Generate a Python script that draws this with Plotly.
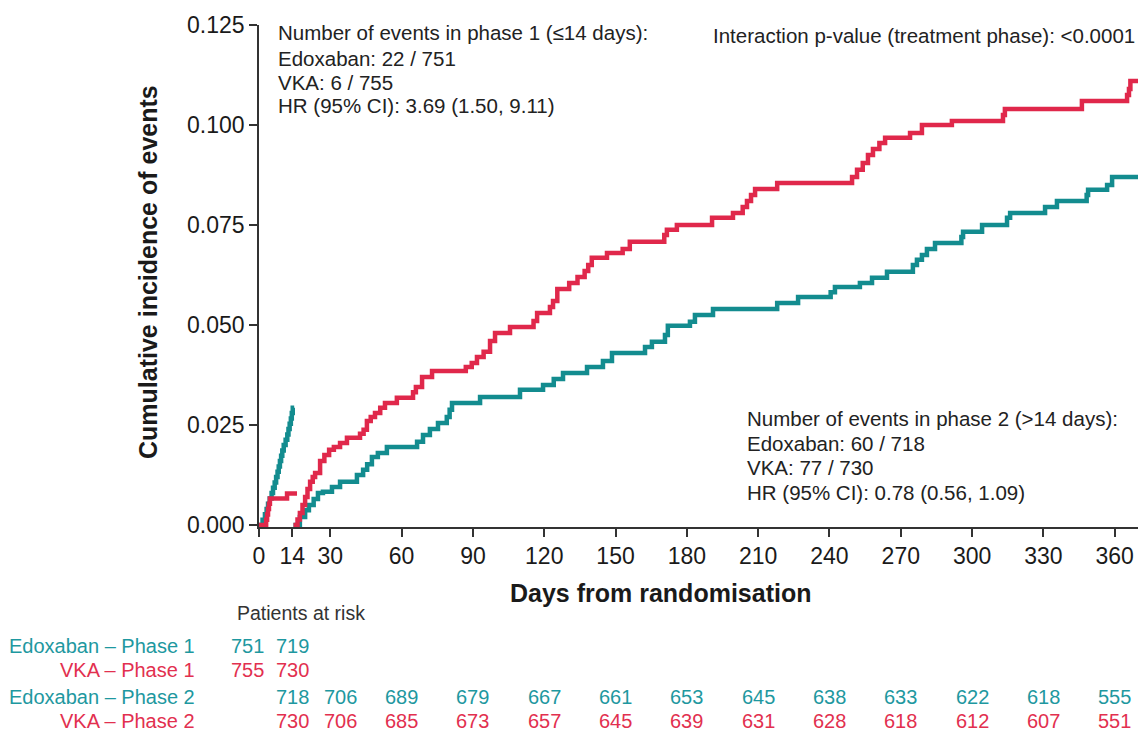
import plotly.graph_objects as go

# ---------------- data ----------------
days_edox_p1 = [0, 1.5, 2.5, 3.2, 3.8, 4.5, 5.3, 5.9, 6.6, 7.2, 7.8, 8.3, 8.8, 9.3, 9.8,
                10.4, 11.2, 11.9, 12.4, 12.9, 13.4, 13.8, 14.2, 14.8]
inc_edox_p1 = [0, 0.0013, 0.0027, 0.0040, 0.0053, 0.0066, 0.0080, 0.0093, 0.0106, 0.0120,
               0.0133, 0.0146, 0.0160, 0.0173, 0.0186, 0.0200, 0.0213, 0.0226, 0.0240,
               0.0253, 0.0266, 0.0280, 0.0293, 0.0293]

days_vka_p1 = [0, 3.0, 3.4, 3.8, 4.2, 4.6, 11.8, 16.0]
inc_vka_p1 = [0, 0.0013, 0.0026, 0.0040, 0.0053, 0.0066, 0.0079, 0.0079]

days_edox_p2 = [14.5, 17.2, 19.4, 21.0, 23.0, 24.8, 26.9, 30.7, 34.1, 41.2, 43.8, 45.5, 47.5,
                50.0, 53.8, 66.5, 69.0, 71.9, 75.3, 79.0, 80.2, 81.2, 93.0, 109.8, 119.5,
                124.0, 127.9, 138.0, 144.7, 148.5, 162.4, 165.3, 170.8, 172.0, 181.3, 183.4,
                191.0, 218.0, 226.8, 240.5, 242.3, 252.8, 257.9, 264.2, 275.1, 276.8, 278.9,
                281.0, 284.4, 295.5, 296.2, 304.2, 314.7, 316.0, 330.7, 335.7, 348.2, 348.8,
                356.8, 358.9, 369.8]
inc_edox_p2 = [0, 0.0020, 0.0037, 0.0050, 0.0065, 0.0080, 0.0083, 0.0095, 0.0108, 0.0125,
               0.0138, 0.0152, 0.0170, 0.0180, 0.0195, 0.0208, 0.0225, 0.0240, 0.0255, 0.0270,
               0.0288, 0.0305, 0.0320, 0.0338, 0.0350, 0.0365, 0.0380, 0.0395, 0.0410, 0.0430,
               0.0445, 0.0458, 0.0475, 0.0498, 0.0508, 0.0525, 0.0540, 0.0555, 0.0570, 0.0582,
               0.0595, 0.0605, 0.0618, 0.0633, 0.0650, 0.0663, 0.0675, 0.0690, 0.0705, 0.0720,
               0.0733, 0.0750, 0.0768, 0.0780, 0.0795, 0.0810, 0.0825, 0.0838, 0.0850, 0.0870,
               0.0870]

days_vka_p2 = [14.5, 16.2, 17.2, 18.3, 19.4, 20.4, 21.5, 22.6, 23.6, 25.7, 27.5, 29.5, 31.5,
               34.1, 37.0, 42.5, 44.0, 45.4, 47.0, 48.8, 51.0, 53.0, 58.0, 64.8, 66.0, 68.6,
               72.8, 87.0, 89.5, 91.7, 94.5, 97.2, 99.3, 105.6, 115.5, 117.0, 122.4, 123.7,
               125.5, 130.5, 134.0, 137.0, 138.5, 140.0, 146.4, 153.0, 156.0, 170.5, 171.6,
               175.8, 190.6, 199.4, 203.5, 205.3, 207.0, 208.7, 218.0, 249.5, 251.6, 254.0,
               256.2, 258.3, 261.0, 263.4, 273.9, 278.9, 291.5, 313.0, 313.8, 346.2, 365.2,
               366.0, 366.6, 369.8]
inc_vka_p2 = [0, 0.0014, 0.0030, 0.0050, 0.0070, 0.0090, 0.0108, 0.0120, 0.0130, 0.0160,
              0.0175, 0.0188, 0.0195, 0.0205, 0.0218, 0.0228, 0.0238, 0.0260, 0.0270, 0.0280,
              0.0293, 0.0305, 0.0318, 0.0332, 0.0345, 0.0370, 0.0385, 0.0395, 0.0405, 0.0420,
              0.0433, 0.0460, 0.0480, 0.0495, 0.0510, 0.0530, 0.0545, 0.0560, 0.0590, 0.0605,
              0.0620, 0.0635, 0.0650, 0.0668, 0.0680, 0.0690, 0.0708, 0.0725, 0.0738, 0.0750,
              0.0768, 0.0780, 0.0795, 0.0810, 0.0825, 0.0840, 0.0855, 0.0870, 0.0888, 0.0905,
              0.0925, 0.0940, 0.0955, 0.0968, 0.0980, 0.1000, 0.1010, 0.1025, 0.1040, 0.1060,
              0.1075, 0.1090, 0.1110, 0.1110]

x_ticks = [0, 14, 30, 60, 90, 120, 150, 180, 210, 240, 270, 300, 330, 360]
y_ticks = [0.000, 0.025, 0.050, 0.075, 0.100, 0.125]

risk_days_p1 = [0, 14]
risk_edox_p1 = [751, 719]
risk_vka_p1 = [755, 730]
risk_days_p2 = [14, 30, 60, 90, 120, 150, 180, 210, 240, 270, 300, 330, 360]
risk_edox_p2 = [718, 706, 689, 679, 667, 661, 653, 645, 638, 633, 622, 618, 555]
risk_vka_p2 = [730, 706, 685, 673, 657, 645, 639, 631, 628, 618, 612, 607, 551]

phase1_text = ["Number of events in phase 1 (\u226414 days):", "Edoxaban: 22 / 751",
               "VKA: 6 / 755", "HR (95% CI): 3.69 (1.50, 9.11)"]
phase2_text = ["Number of events in phase 2 (>14 days):", "Edoxaban: 60 / 718",
               "VKA: 77 / 730", "HR (95% CI): 0.78 (0.56, 1.09)"]
interaction_text = "Interaction p-value (treatment phase): <0.0001"

# ---------------- style ----------------
TEAL = "#138c8f"
RED = "#e0284b"
TEAL_TXT = "#1e98a0"
RED_TXT = "#e2304f"
FONT = "Liberation Sans, Arial, sans-serif"
W, H = 1138, 733
L, R, T, B = 259, 0, 25, 206
PW, PH = W - L - R, H - T - B
XMAX = 369.8
YR = [-0.0005, 0.125]
TXT = 20.5


def px(xp):
    return (xp - L) / PW


def py(yp):
    return (T + PH - yp) / PH


fig = go.Figure()
for d, v, c in [(days_edox_p1, inc_edox_p1, TEAL), (days_vka_p1, inc_vka_p1, RED),
                (days_edox_p2, inc_edox_p2, TEAL), (days_vka_p2, inc_vka_p2, RED)]:
    fig.add_trace(go.Scatter(x=d, y=v, mode="lines", line=dict(color=c, width=4.5, shape="hv"),
                             showlegend=False, hoverinfo="skip"))

ann = []
for i, t in enumerate(phase1_text):
    ann.append(dict(text=t, x=px(276), y=py([33, 58, 82, 106][i]), xanchor="left",
                    yanchor="middle", font=dict(size=TXT, color="#222")))
for i, t in enumerate(phase2_text):
    ann.append(dict(text=t, x=px(745), y=py([418, 443, 467, 492][i]), xanchor="left",
                    yanchor="middle", font=dict(size=TXT, color="#222")))
ann.append(dict(text=interaction_text, x=px(711), y=py(36), xanchor="left", yanchor="middle",
                font=dict(size=TXT, color="#222")))

# axis titles
ann.append(dict(text="<b>Cumulative incidence of events</b>", x=px(148), y=py(272),
                textangle=-90, xanchor="center", yanchor="middle",
                font=dict(size=25, color="#1a1a1a")))
ann.append(dict(text="<b>Days from randomisation</b>", x=px(660), y=py(593), xanchor="center",
                yanchor="middle", font=dict(size=25, color="#1a1a1a")))

# at-risk table
ann.append(dict(text="Patients at risk", x=px(301), y=py(613), xanchor="center",
                yanchor="middle", font=dict(size=19.5, color="#333")))
rows = [("Edoxaban \u2013 Phase 1", TEAL_TXT, 646), ("VKA \u2013 Phase 1", RED_TXT, 670),
        ("Edoxaban \u2013 Phase 2", TEAL_TXT, 697), ("VKA \u2013 Phase 2", RED_TXT, 721)]
for t, c, yy in rows:
    ann.append(dict(text=t, x=px(197), y=py(yy), xanchor="right", yanchor="middle",
                    font=dict(size=20, color=c)))

shift_p1 = [-12, 0]
shift_p2 = [0, 10, 0, 0, 0, 0, 0, 0, 0, 0, 0, 0, 0]
for vals, c, yy in [(risk_edox_p1, TEAL_TXT, 646), (risk_vka_p1, RED_TXT, 670)]:
    for d, n, s in zip(risk_days_p1, vals, shift_p1):
        ann.append(dict(text=str(n), x=d, xref="x", y=py(yy), xanchor="center",
                        yanchor="middle", xshift=s, font=dict(size=20, color=c)))
for vals, c, yy in [(risk_edox_p2, TEAL_TXT, 697), (risk_vka_p2, RED_TXT, 721)]:
    for d, n, s in zip(risk_days_p2, vals, shift_p2):
        ann.append(dict(text=str(n), x=d, xref="x", y=py(yy), xanchor="center",
                        yanchor="middle", xshift=s, font=dict(size=20, color=c)))

for a in ann:
    a.setdefault("xref", "paper")
    a["yref"] = "paper"
    a["showarrow"] = False

axis_common = dict(showgrid=False, zeroline=False, showline=True, linecolor="#333",
                   linewidth=1.5, ticks="outside", ticklen=8, tickwidth=1.5, tickcolor="#333",
                   tickfont=dict(size=23, color="#1a1a1a"), tickmode="array")

fig.update_layout(
    width=W, height=H, margin=dict(l=L, r=R, t=T, b=B, pad=0),
    paper_bgcolor="white", plot_bgcolor="white",
    font=dict(family=FONT, size=TXT, color="#222"),
    annotations=ann,
    xaxis=dict(range=[0, XMAX], tickvals=x_ticks, ticktext=[str(t) for t in x_ticks],
               **axis_common),
    yaxis=dict(range=YR, tickvals=y_ticks, ticktext=[f"{t:.3f}" for t in y_ticks],
               **axis_common),
)

fig.write_html("out.html", config={"displayModeBar": False},
               post_script="document.body.style.margin='0';"
                           "document.body.style.overflow='hidden';")
